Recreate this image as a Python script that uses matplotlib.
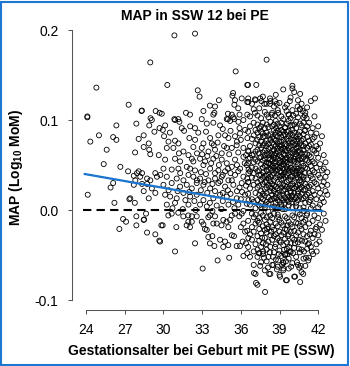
import matplotlib
matplotlib.use("Agg")
import matplotlib.pyplot as plt
from matplotlib.patches import Rectangle

plt.rcParams['font.family'] = ['Liberation Sans', 'DejaVu Sans']
plt.rcParams['mathtext.fontset'] = 'custom'
plt.rcParams['mathtext.rm'] = 'Liberation Sans:bold'
plt.rcParams['mathtext.bf'] = 'Liberation Sans:bold'

# points: (gestational age in weeks, MAP log10 MoM)
upper_pts = [
    (28.98, .164), (24.8, .136), (27.3, .117), (28.3, .110), (28.33, .1105), (29.4, .110), (29.7, .108),
    (24.1, .104), (29.0, .102),
    (30.85, .194), (32.45, .196), (35.6, .154), (30.3, .139), (36.56, .139), (32.66, .133), (32.8, .126),
    (34.3, .122), (35.4, .130), (35.35, .127), (33.6, .116), (34.0, .115), (33.1, .110), (33.87, .106),
    (33.95, .108), (31.75, .108), (32.06, .106), (29.87, .107), (30.85, .101), (31.15, .101), (35.55, .122),
    (36.07, .124), (36.5, .120), (35.5, .117), (35.8, .113), (35.0, .107), (35.3, .106), (35.9, .106),
    (36.5, .106), (35.0, .101), (35.5, .101),
    (38.0, .167), (36.5, .139), (37.2, .139), (40.0, .138), (40.0, .135), (40.6, .129), (41.75, .124),
    (36.58, .120), (37.1, .123), (37.5, .124), (37.6, .121), (38.26, .124), (38.65, .121), (37.82, .118),
    (38.26, .118), (38.78, .118), (39.8, .121), (40.4, .115), (40.6, .112), (40.8, .110), (39.55, .110),
    (39.7, .106), (40.07, .105), (37.1, .108), (38.0, .106), (38.4, .106), (38.65, .105), (38.9, .108),
    (40.97, .105), (41.1, .102),
]

left_pts = [
    (24.1, .103), (24.33, .076), (26.35, .094), (25.0, .083), (26.1, .081), (26.35, .078), (25.6, .067),
    (25.37, .051), (26.66, .048), (24.13, .017), (27.8, .064), (28.08, .079), (28.47, .083), (28.86, .074),
    (28.47, .070), (28.9, .067), (28.98, .062), (29.64, .061), (27.9, .096), (29.1, .100), (28.9, .094),
    (29.3, .087), (29.7, .091), (26.1, .030), (25.9, .025), (26.2, .008), (27.36, .012), (27.78, .008),
    (27.7, .038), (27.95, .041), (28.08, .043), (28.34, .041), (27.82, .033), (28.2, .037), (28.73, .035),
    (28.98, .033), (29.37, .041), (29.5, .037), (29.76, .039), (27.7, .028), (28.34, .029), (28.73, .029),
    (29.1, .024), (28.47, .021), (29.37, .019), (28.86, .013), (27.43, .013), (27.26, .043),
    (26.87, -.010), (27.1, -.013), (26.58, -.021), (27.9, -.007), (27.9, -.017), (28.47, -.011),
    (28.5, -.0105), (28.65, -.004), (28.73, -.025), (29.37, -.027), (29.68, -.034), (29.84, -.017),
]

mid_pts = [
    (30.90, .100), (31.24, .098), (30.13, .094), (29.95, .089), (31.42, .091), (32.07, .093), (32.45, .091),
    (32.97, .101), (33.36, .096), (33.87, .097), (34.39, .094), (34.91, .101), (35.17, .099), (35.42, .103),
    (35.81, .098), (36.20, .100),
    (30.05, .082), (30.39, .076), (30.90, .077), (31.16, .074), (32.01, .080), (32.45, .078), (33.10, .074),
    (33.62, .080), (33.75, .074), (34.26, .083), (34.78, .083), (35.04, .080), (35.55, .082), (35.94, .085),
    (36.33, .089), (36.51, .080),
    (30.26, .069), (30.77, .069), (31.55, .065), (32.32, .070), (32.97, .069), (33.49, .065), (34.00, .067),
    (34.52, .063), (34.91, .069), (35.30, .069), (35.68, .072), (36.20, .069), (36.59, .065),
    (30.13, .056), (30.90, .057), (31.29, .054), (31.94, .061), (32.20, .057), (32.32, .054), (32.84, .057),
    (33.23, .054), (33.87, .057), (34.52, .056), (34.91, .052), (35.55, .056), (36.20, .059), (36.59, .057),
    (30.00, .046), (30.64, .045), (31.16, .046), (31.81, .048), (32.07, .046), (32.45, .044), (33.10, .050),
    (33.62, .046), (34.26, .044), (34.78, .043), (35.30, .048), (35.94, .046), (36.46, .050),
    (30.26, .037), (31.03, .035), (31.55, .033), (31.94, .039), (32.32, .037), (32.84, .035), (33.49, .033),
    (34.00, .035), (34.52, .037), (35.04, .033), (35.55, .039), (36.20, .037), (36.59, .041),
    (30.00, .028), (30.64, .030), (31.29, .026), (31.81, .028), (32.20, .024), (32.58, .030), (33.10, .028),
    (33.62, .024), (34.26, .030), (34.78, .026), (35.42, .028), (36.07, .030), (36.59, .031),
    (30.13, .017), (30.52, .015), (31.03, .013), (31.55, .019), (32.07, .015), (32.58, .017), (33.10, .011),
    (33.87, .013), (34.39, .017), (34.91, .015), (35.68, .013), (36.33, .017),
    (30.26, .006), (30.90, .008), (31.94, .006), (32.84, .006), (33.36, .004), (34.13, .005), (35.04, .006),
    (35.81, .006), (36.46, .007),
    (31.6, .088), (32.7, .086), (33.3, .087), (34.6, .090), (35.2, .088), (35.9, .091), (30.5, .086),
    (33.9, .072), (34.2, .075), (35.7, .076), (36.0, .078), (34.7, .071), (33.0, .062), (33.4, .060),
    (34.1, .060), (35.1, .062), (35.8, .064), (36.4, .061), (31.2, .063), (32.6, .063), (33.7, .052),
    (34.3, .050), (35.0, .046), (35.7, .050), (36.3, .052), (36.6, .045), (32.9, .042), (33.3, .040),
    (34.0, .041), (34.6, .039), (35.2, .041), (35.8, .043), (36.5, .035), (31.3, .041), (32.6, .033),
    (33.2, .031), (33.8, .029), (34.4, .032), (35.0, .022), (35.3, .033), (35.9, .025), (36.4, .027),
    (30.4, .022), (31.1, .021), (32.0, .020), (32.9, .022), (33.4, .019), (34.0, .021), (34.6, .019),
    (35.2, .018), (35.7, .021), (36.1, .020), (31.7, .011), (32.4, .010), (33.6, .008), (34.6, .010),
    (35.4, .009), (36.0, .012), (36.6, .011), (30.7, .002), (31.5, .001), (32.5, .000), (33.8, -.001),
    (34.5, .001), (35.5, .002), (36.2, -.001),
]

lower_pts = [
    (29.94, -.017), (31.0, -.019), (29.74, -.035), (30.9, -.046), (32.45, -.037), (33.04, -.065),
    (34.2, -.056), (35.1, -.053), (36.2, -.051), (36.5, -.048),
    (33.48, -.030), (33.79, -.029), (33.6, -.037), (33.95, -.040), (34.39, -.033), (34.78, -.035),
    (35.03, -.039), (34.64, -.041), (35.3, -.028), (35.47, -.029), (35.68, -.040), (35.94, -.040),
    (36.14, -.035), (36.4, -.037), (36.5, -.023), (36.58, -.031),
    (30.38, -.006), (30.64, -.004), (31.15, -.003), (31.54, -.007), (31.93, -.006), (32.2, -.007),
    (31.93, -.013), (32.2, -.013), (31.8, -.017), (32.06, -.019), (32.58, -.007), (32.97, -.013),
    (33.1, -.016), (33.48, -.008), (33.6, -.006), (34.0, -.007), (33.36, -.022), (33.22, -.021),
    (33.87, -.015), (34.13, -.015), (34.5, -.017), (34.64, -.011), (34.9, -.013), (35.16, -.011),
    (35.03, -.019), (35.3, -.006), (35.55, -.004), (35.88, -.007), (36.07, -.004), (36.2, -.015),
    (36.33, -.024), (36.0, -.019),
    (37.02, -.070), (37.18, -.081), (37.43, -.048), (37.74, -.046), (38.2, -.071), (37.88, -.091),
    (38.52, -.061), (38.9, -.056), (39.3, -.059), (39.3, -.065), (39.43, -.050), (39.6, -.049),
    (39.04, -.074), (39.5, -.078), (39.8, -.046), (40.2, -.074), (40.53, -.064), (40.6, -.080),
    (40.84, -.071), (41.23, -.056), (41.5, -.046), (41.88, -.046),
]

# lower part of the term cluster
lower_core_pts = [
    (37.3, -.044), (37.5, -.062), (37.65, -.031), (37.8, -.053), (37.95, -.038), (38.1, -.064),
    (38.25, -.047), (38.35, -.024), (38.5, -.052), (38.65, -.041), (38.8, -.066), (38.95, -.049),
    (39.1, -.036), (39.2, -.061), (39.35, -.044), (39.5, -.057), (39.65, -.029), (39.75, -.041),
    (39.9, -.063), (40.05, -.048), (40.2, -.037), (40.35, -.058), (40.5, -.043), (40.65, -.062),
    (40.75, -.034), (40.9, -.046), (41.05, -.053), (41.2, -.038), (41.35, -.027), (41.6, -.049),
    (41.8, -.021), (42.1, -.035), (37.4, -.014), (38.05, -.021), (38.9, -.008), (39.6, -.017),
    (40.4, -.003), (41.1, -.006), (37.9, .006), (39.25, .001), (40.9, -.001), (38.6, .004),
    (39.95, .015), (40.6, .033), (38.2, .052), (39.4, .068), (40.25, .059), (38.75, .091),
    (39.85, .094), (40.95, .088), (37.6, .002), (41.4, .011),
]

# dense term region, one column per gestational day
dense_ga = [36.57, 36.71, 36.86, 37.0, 37.14, 37.29, 37.43, 37.57, 37.71, 37.86,
            38.0, 38.14, 38.29, 38.43, 38.57, 38.71, 38.86, 39.0, 39.14, 39.29,
            39.43, 39.57, 39.71, 39.86, 40.0, 40.14, 40.29, 40.43, 40.57, 40.71,
            40.86, 41.0, 41.14, 41.29, 41.43, 41.57, 41.71, 41.86, 42.0, 42.14,
            42.29, 42.43, 42.57, 42.71]
dense_map = [
    [.124, .087, .052, .018, -.012, -.041, .066, .031],
    [.104, .071, .043, .006, -.027, .093, -.052, .058, .024],
    [.118, .079, .036, -.004, -.033, .061, .012, -.019, .047],
    [.097, .062, .028, -.008, -.046, .083, .041, .009, -.024, .112, .053, -.061],
    [.122, .074, .035, -.015, .056, .002, -.038, .089, .019, -.071, .046, .065, -.005],
    [.086, .043, .011, -.029, .105, .067, .025, -.052, .078, -.012, .054, .031, -.083, .095],
    [.113, .058, .017, -.021, .072, .039, -.048, .091, .005, .063, -.034, .027, .081, .044, -.009],
    [.102, .069, .033, -.003, -.041, .087, .051, .014, -.026, .076, .039, .059, -.058, .021, .093, .008],
    [.126, .081, .047, .012, -.018, .064, .029, -.037, .097, .055, -.006, .072, .036, .018, -.049, .085, .042],
    [.091, .057, .023, -.011, .074, .038, .003, -.031, .109, .066, .049, -.067, .016, .082, .031, -.022, .061],
    [.118, .077, .044, .009, -.025, .063, .031, -.044, .095, .053, .019, -.008, .071, .038, .086, -.016, .048, .025, -.057],
    [.103, .068, .035, -.002, .083, .052, .014, -.035, .061, .028, .092, -.019, .045, .007, .074, .039, -.052, .057],
    [.121, .084, .056, .021, -.013, .069, .037, -.028, .098, .046, .011, -.006, .078, .032, .063, -.071, .051, .025, -.041],
    [.093, .062, .029, -.009, .075, .044, .017, -.033, .108, .055, .003, .081, .039, -.019, .066, .024, -.061, .049, .012],
    [.115, .079, .047, .013, -.022, .067, .033, -.047, .089, .058, .021, -.004, .073, .041, .095, -.029, .052, .027, .061],
    [.128, .086, .054, .018, -.015, .071, .036, -.038, .099, .063, .008, .044, .077, .026, -.055, .049, .014, -.027, .083, .058],
    [.096, .065, .031, -.005, .082, .048, .019, -.031, .111, .057, .002, .074, .039, -.018, .068, .024, -.063, .045, .088, .011],
    [.119, .076, .043, .009, -.024, .064, .029, -.045, .093, .052, .016, -.011, .071, .037, .085, -.034, .055, .022, .061, -.072, .047],
    [.104, .072, .038, .003, .081, .049, .013, -.028, .097, .059, .025, -.014, .068, .034, -.051, .076, .042, .006, .089, .053],
    [.134, .087, .055, .021, -.017, .069, .035, -.039, .101, .062, .011, .046, .078, .028, -.058, .051, .017, -.025, .083, .039, -.067],
    [.092, .061, .027, -.007, .084, .046, .014, -.032, .114, .057, .001, .073, .037, -.021, .066, .023, -.049, .042, .091, .008, .054],
    [.117, .079, .045, .011, -.022, .066, .031, -.043, .096, .053, .018, -.009, .072, .039, .087, -.036, .058, .026, -.078, .048],
    [.106, .074, .041, .005, .082, .051, .015, -.027, .099, .061, .024, -.013, .069, .033, -.054, .077, .044, .009, .088, -.065],
    [.125, .085, .052, .019, -.016, .071, .037, -.037, .102, .059, .012, .047, .079, .027, -.047, .056, .021, -.024, .064, .034],
    [.094, .063, .029, -.006, .083, .045, .016, -.031, .111, .055, .003, .075, .038, -.019, .067, .025, -.059, .043, .089, .009],
    [.131, .078, .046, .012, -.023, .065, .032, -.042, .095, .054, .019, -.008, .072, .041, .086, -.033, .057, .024, -.074],
    [.107, .073, .039, .004, .081, .048, .014, -.028, .098, .062, .026, -.014, .069, .035, -.052, .077, .043, .008, .091],
    [.122, .084, .051, .018, -.015, .071, .036, -.036, .103, .058, .011, .046, .079, .028, -.061, .055, .021, -.025, .065],
    [.096, .064, .028, -.005, .082, .044, .015, -.033, .112, .056, .002, .074, .039, -.018, .066, .024, -.047, .042, .087],
    [.118, .077, .045, .012, -.021, .063, .031, -.044, .094, .052, .018, -.009, .072, .038, -.069, .057, .025],
    [.103, .071, .037, .003, .084, .049, .013, -.027, .097, .059, .022, -.013, .067, .034, -.054, .079],
    [.089, .056, .023, -.011, .074, .041, .008, -.035, .108, .062, .029, -.019, .047, .015, -.062],
    [.114, .069, .034, -.004, .081, .046, .017, -.029, .093, .055, .026, -.043, .062],
    [.097, .061, .026, -.015, .077, .041, .009, -.037, .053, .019, -.053, .071],
    [.121, .073, .038, .002, .086, .049, .014, -.023, .059, .028, -.041],
    [.091, .054, .021, -.012, .067, .035, .005, -.031, .079, .044],
    [.104, .066, .031, -.006, .052, .017, -.027, .081, .042],
    [.085, .047, .012, -.019, .063, .029, -.038, .071],
    [.093, .058, .024, -.009, .039, .003, -.028, .068],
    [.074, .036, .006, -.016, .051, .019],
    [.082, .044, .013, -.022, .027],
    [.061, .031, -.004, .046, .009],
    [.053, .021, -.012, .037],
    [.042, .017, .028],
]

# regression line (piecewise) and reference line
fit_ga = [23.9, 39.8, 42.3]
fit_map = [0.040, 0.0, -0.001]
ref_ga = [23.8, 42.3]
ref_map = [0.0, 0.0]

x_ticks = [24, 27, 30, 33, 36, 39, 42]
y_ticks = [-0.1, 0.0, 0.1, 0.2]
y_ticklabels = ['-0.1', '0.0', '0.1', '0.2']

xs, ys = [], []
for group in (upper_pts, left_pts, mid_pts, lower_pts, lower_core_pts):
    for ga, m in group:
        xs.append(ga)
        ys.append(m)
for ga, col in zip(dense_ga, dense_map):
    for m in col:
        xs.append(ga)
        ys.append(m)

W, H = 350, 366
fig = plt.figure(figsize=(W / 100, H / 100), dpi=100)
ax = fig.add_axes([76 / W, 62 / H, 256 / W, 282 / H])
ax.set_xlim(23.22, 43.07)
ax.set_ylim(-0.1044, 0.2089)

ax.scatter(xs, ys, s=13, facecolors='none', edgecolors='black', linewidths=0.6, zorder=2)
ax.plot(ref_ga, ref_map, color='black', lw=1.5, linestyle=(0, (4, 2.5)), zorder=3)
ax.plot(fit_ga, fit_map, color='#1874CD', lw=1.6, zorder=4)

# R-like detached axes
for side in ('top', 'right'):
    ax.spines[side].set_visible(False)
ax.spines['left'].set_position(('outward', 2.9))
ax.spines['bottom'].set_position(('outward', 4.3))
ax.spines['left'].set_bounds(-0.1, 0.2)
ax.spines['bottom'].set_bounds(24, 42)
for side in ('left', 'bottom'):
    ax.spines[side].set_color('#555555')
    ax.spines[side].set_linewidth(0.75)

ax.set_xticks(x_ticks)
ax.set_yticks(y_ticks)
ax.set_yticklabels(y_ticklabels)
ax.tick_params(axis='both', colors='#555555', labelcolor='black', labelsize=10, width=0.75, length=3.2)
ax.tick_params(axis='y', pad=6.5)
ax.tick_params(axis='x', pad=6.5)

fig.text(195 / W, 1 - 20 / H, 'MAP in SSW 12 bei PE', ha='center', va='baseline',
         fontsize=10, fontweight='bold')
fig.text(201.5 / W, 1 - 355 / H, 'Gestationsalter bei Geburt mit PE (SSW)', ha='center', va='baseline',
         fontsize=10, fontweight='bold')
fig.text(16 / W, 1 - 167 / H, r'MAP (Log$_{10}$ MoM)', ha='center', va='center', rotation=90,
         fontsize=10, fontweight='bold')

fig.add_artist(Rectangle((1 / W, 1 / H), 347 / W, 363 / H, transform=fig.transFigure,
                         fill=False, edgecolor='#1E78D2', lw=1.5))

fig.savefig('out.png', dpi=100)
